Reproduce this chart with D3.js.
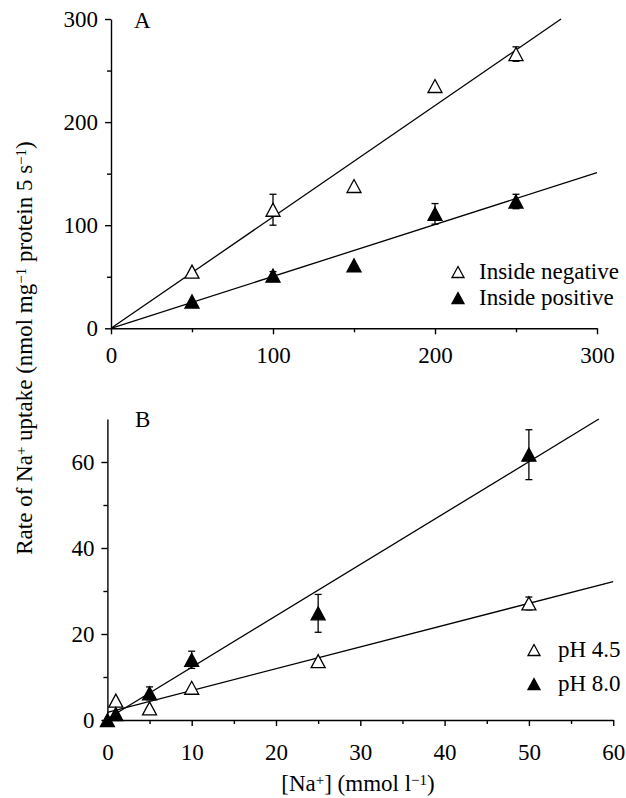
<!DOCTYPE html>
<html>
<head>
<meta charset="utf-8">
<script src="https://cdn.jsdelivr.net/npm/d3@7"></script>
<style>
  html, body { margin: 0; padding: 0; background: #fff; }
  svg { display: block; }
  text { font-family: "Liberation Serif", "Times New Roman", serif; fill: #000; }
</style>
</head>
<body>
<svg id="chart" width="626" height="798"></svg>
<script>
// Panel A: membrane potential (inside negative / inside positive)
const concA = [50, 100, 150, 200, 250];
const negA = [55, 115, 138, 235, 266];
const negAErr = [0, 15, 0, 0, 7];
const posA = [26, 51, 61, 111, 123];
const posAErr = [0, 4, 0, 10, 7];
const negFitA = [[0, 0], [277.8, 300]];
const posFitA = [[0, 0], [300, 151]];
const ticksAX = [0, 100, 200, 300];
const ticksAY = [0, 100, 200, 300];
const legendA = ["Inside negative", "Inside positive"];

// Panel B: external pH
const concB45 = [1, 5, 10, 25, 50];
const ph45 = [4.5, 2.7, 7.5, 13.7, 27.1];
const ph45Err = [0, 0, 0, 0, 1.5];
const concB80 = [0, 1, 5, 10, 25, 50];
const ph80 = [0, 1.4, 6.2, 14, 24.8, 61.7];
const ph80Err = [0, 0, 1.5, 2, 4.4, 5.8];
const fit45 = [[0, 1.8], [60, 32.2]];
const fit80 = [[0, 0.3], [58.3, 70]];
const ticksBX = [0, 10, 20, 30, 40, 50, 60];
const ticksBY = [0, 20, 40, 60];
const legendB = ["pH 4.5", "pH 8.0"];

const svg = d3.select("#chart");
const FONT = 23;

function tri(cx, cy, w, h) {
  return `M${cx - w / 2},${cy + h / 2}L${cx + w / 2},${cy + h / 2}L${cx},${cy - h / 2}Z`;
}

function panel(cfg) {
  const g = svg.append("g");
  const x = d3.scaleLinear().domain(cfg.xDomain).range(cfg.xRange);
  const y = d3.scaleLinear().domain(cfg.yDomain).range(cfg.yRange);
  const y0 = cfg.yRange[0], x0 = cfg.xRange[0];

  // x axis: major ticks labelled, minor ticks between
  const xAxis = g.append("g").attr("transform", `translate(0,${y0})`)
    .call(d3.axisBottom(x).tickValues(cfg.xMinor).tickSize(4).tickFormat(""));
  xAxis.select(".domain").remove();
  const xMaj = g.append("g").attr("transform", `translate(0,${y0})`)
    .call(d3.axisBottom(x).tickValues(cfg.xTicks).tickSize(6).tickSizeOuter(0).tickPadding(cfg.xPad));
  xMaj.selectAll("text").style("font-size", FONT + "px").style("font-family", "Liberation Serif");

  const yAxis = g.append("g").attr("transform", `translate(${x0},0)`)
    .call(d3.axisLeft(y).tickValues(cfg.yMinor).tickSize(4).tickFormat(""));
  yAxis.select(".domain").remove();
  const yMaj = g.append("g").attr("transform", `translate(${x0},0)`)
    .call(d3.axisLeft(y).tickValues(cfg.yTicks).tickSize(6).tickSizeOuter(0).tickPadding(7));
  yMaj.selectAll("text").style("font-size", FONT + "px").style("font-family", "Liberation Serif");

  g.selectAll(".domain, .tick line").attr("stroke", "#000").attr("stroke-width", 1.4);

  // fitted regression lines
  const line = d3.line().x(d => x(d[0])).y(d => y(d[1]));
  cfg.fits.forEach(f => {
    g.append("path").attr("d", line(f)).attr("fill", "none")
      .attr("stroke", "#000").attr("stroke-width", 1.3);
  });

  // series: error bars then triangles
  cfg.series.forEach(s => {
    s.xs.forEach((xv, i) => {
      const e = s.err[i];
      if (!e) return;
      const cx = x(xv), top = y(s.ys[i] + e), bot = y(s.ys[i] - e);
      g.append("line").attr("x1", cx).attr("x2", cx).attr("y1", top).attr("y2", bot)
        .attr("stroke", "#000").attr("stroke-width", 1.3);
      [top, bot].forEach(yy => g.append("line")
        .attr("x1", cx - 3.5).attr("x2", cx + 3.5).attr("y1", yy).attr("y2", yy)
        .attr("stroke", "#000").attr("stroke-width", 1.3));
    });
    g.selectAll(null).data(s.xs).enter().append("path")
      .attr("d", (xv, i) => tri(x(xv), y(s.ys[i]), 14, 13))
      .attr("fill", s.filled ? "#000" : "#fff")
      .attr("stroke", "#000").attr("stroke-width", 1.3)
      .attr("stroke-linejoin", "miter");
  });

  // legend
  cfg.legend.forEach((lab, i) => {
    const ly = cfg.legendY + i * cfg.legendGap;
    g.append("path").attr("d", tri(cfg.legendMarkX, ly - 7, 12, 11))
      .attr("fill", i === 0 ? "#fff" : "#000")
      .attr("stroke", "#000").attr("stroke-width", 1.3);
    g.append("text").attr("x", cfg.legendTextX).attr("y", ly)
      .style("font-size", FONT + "px").text(lab);
  });

  // panel letter
  g.append("text").attr("x", cfg.letterX).attr("y", cfg.letterY)
    .style("font-size", FONT + "px").text(cfg.letter);
}

panel({
  xDomain: [0, 300], xRange: [111, 597],
  yDomain: [0, 300], yRange: [328.3, 19],
  xTicks: ticksAX, xMinor: [50, 150, 250],
  yTicks: ticksAY, yMinor: [50, 150, 250],
  xPad: 12,
  fits: [negFitA, posFitA],
  series: [
    { xs: concA, ys: negA, err: negAErr, filled: false },
    { xs: concA, ys: posA, err: posAErr, filled: true }
  ],
  legend: legendA, legendY: 279, legendGap: 26, legendMarkX: 458, legendTextX: 479,
  letter: "A", letterX: 134, letterY: 28
});

panel({
  xDomain: [0, 60], xRange: [107.4, 613.2],
  yDomain: [0, 70], yRange: [720, 419],
  xTicks: ticksBX, xMinor: [5, 15, 25, 35, 45, 55],
  yTicks: ticksBY, yMinor: [10, 30, 50],
  xPad: 18,
  fits: [fit45, fit80],
  series: [
    { xs: concB45, ys: ph45, err: ph45Err, filled: false },
    { xs: concB80, ys: ph80, err: ph80Err, filled: true }
  ],
  legend: legendB, legendY: 657, legendGap: 34, legendMarkX: 534, legendTextX: 558,
  letter: "B", letterX: 135, letterY: 427
});

// shared axis titles, with raised superscripts
function withSup(sel, parts) {
  parts.forEach(p => {
    const t = sel.append("tspan").text(p.t);
    if (p.s) t.style("font-size", "15px").attr("baseline-shift", "38%");
  });
}

const yl = svg.append("text")
  .attr("transform", "translate(32,348) rotate(-90)")
  .attr("text-anchor", "middle")
  .style("font-size", FONT + "px");
withSup(yl, [
  { t: "Rate of Na" }, { t: "+", s: true }, { t: " uptake (nmol mg" }, { t: "\u22121", s: true },
  { t: " protein 5 s" }, { t: "\u22121", s: true }, { t: ")" }
]);

const xl = svg.append("text")
  .attr("x", 358).attr("y", 791)
  .attr("text-anchor", "middle")
  .style("font-size", FONT + "px");
withSup(xl, [
  { t: "[Na" }, { t: "+", s: true }, { t: "] (mmol l" }, { t: "\u22121", s: true }, { t: ")" }
]);
</script>
</body>
</html>
